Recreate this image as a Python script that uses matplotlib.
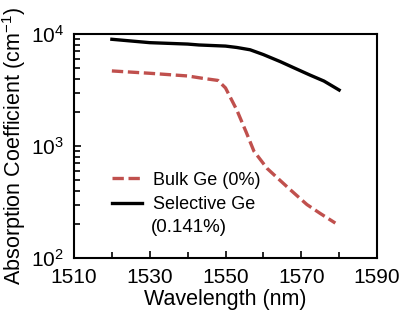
import matplotlib
matplotlib.use('Agg')
import matplotlib.pyplot as plt
from matplotlib.ticker import MultipleLocator, LogLocator, NullFormatter

# data
wl_sel = [1520, 1530, 1540, 1543, 1550, 1553, 1556.5, 1560, 1564.5, 1568, 1572.3, 1576, 1580]
ab_sel = [8970, 8370, 8130, 7980, 7800, 7580, 7230, 6550, 5660, 5000, 4300, 3800, 3160]
wl_bulk = [1520, 1530, 1540, 1544, 1548, 1550, 1553, 1555.5, 1557.5, 1561, 1564.5, 1567, 1571.5, 1575, 1579]
ab_bulk = [4680, 4460, 4220, 4020, 3850, 3300, 2090, 1320, 900, 630, 490, 410, 300, 250, 205]

plt.rcParams['font.family'] = ['Liberation Sans', 'DejaVu Sans']
plt.rcParams['mathtext.fontset'] = 'custom'
plt.rcParams['mathtext.rm'] = 'Liberation Sans'

fig = plt.figure(figsize=(4.0, 3.11), dpi=100)
ax = fig.add_axes([74/400, 1-258/311, 303/400, 224/311])

ax.plot(wl_bulk, ab_bulk, color='#c0504d', lw=2.4, ls=(0, (3.4, 1.4)), label='Bulk Ge (0%)')
ax.plot(wl_sel, ab_sel, color='black', lw=2.4, label='Selective Ge')

ax.set_yscale('log')
ax.set_xlim(1510, 1590)
ax.set_ylim(100, 10000)
ax.xaxis.set_major_locator(MultipleLocator(20, offset=10))
ax.xaxis.set_minor_locator(MultipleLocator(10))
ax.yaxis.set_major_locator(LogLocator(base=10))
ax.yaxis.set_minor_locator(LogLocator(base=10, subs=range(2, 10)))
ax.yaxis.set_minor_formatter(NullFormatter())
ax.tick_params(which='both', direction='in', top=False, right=False, labelsize=15)
ax.tick_params(which='major', length=5, width=1.2)
ax.tick_params(which='minor', length=4, width=1.2)
ax.tick_params(axis='x', pad=7)
ax.tick_params(axis='y', pad=7)
for s in ax.spines.values():
    s.set_linewidth(1.5)

ax.set_xlabel('Wavelength (nm)', fontsize=15.5, labelpad=1.5)
ax.set_ylabel('Absorption Coefficient (cm$^{-1}$)', fontsize=15.5, labelpad=2)

leg = ax.legend(loc='upper left', bbox_to_anchor=(0.125, 0.385), frameon=False, fontsize=13,
                handlelength=1.66, handletextpad=0.6, labelspacing=0.4,
                borderpad=0, borderaxespad=0)
ax.text(0.38, 0.138, '(0.141%)', transform=ax.transAxes, fontsize=13.5,
        ha='center', va='center')

fig.savefig('out.png', dpi=100)
